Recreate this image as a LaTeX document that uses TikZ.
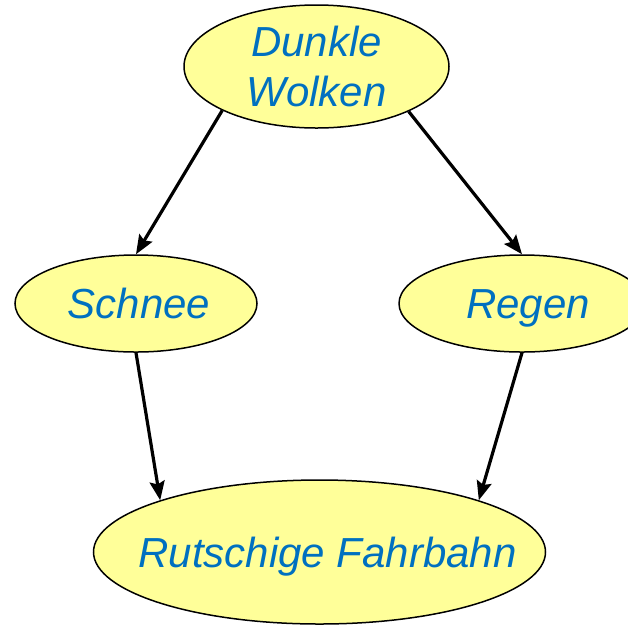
\documentclass[tikz,border=0pt]{standalone}
\usepackage{fontspec}
\setmainfont{Liberation Sans}
\usetikzlibrary{shapes,arrows.meta}
\definecolor{cloudfill}{RGB}{255,255,153}
\definecolor{cloudtext}{RGB}{0,112,192}

\begin{document}
\begin{tikzpicture}[x=1pt, y=-1pt,
  every node/.style={draw, ellipse, fill=cloudfill, line width=1.5pt, inner sep=0pt},
  every label/.style={draw=none, fill=none, text=cloudtext, align=center,
    font=\fontsize{42}{50}\selectfont\itshape},
  oneline/.style={text height=37.8pt, text depth=7.7pt},
  edge/.style={line width=3.2pt, -{Stealth[length=19pt,width=15pt,inset=3pt]}}]
\useasboundingbox (0,0) rectangle (628,625);
\node[minimum width=265pt, minimum height=123pt, label={center:Dunkle\\Wolken}] (wolken) at (316.5,66.5) {};
\node[minimum width=242pt, minimum height=97pt, label={[oneline, xshift=3pt]center:Schnee}] (schnee) at (136,303.5) {};
\node[minimum width=246pt, minimum height=97pt, label={[oneline, xshift=6pt]center:Regen}] (regen) at (522,303.5) {};
\node[minimum width=452pt, minimum height=144pt, label={[oneline, xshift=8pt]center:Rutschige Fahrbahn}] (fahrbahn) at (319.5,552) {};
\foreach \a/\b in {wolken.205/schnee.north, wolken.334/regen.north,
  schnee.south/fahrbahn.162, regen.south/fahrbahn.18}
  {\draw[edge] (\a) -- (\b);}

\end{tikzpicture}
\end{document}
